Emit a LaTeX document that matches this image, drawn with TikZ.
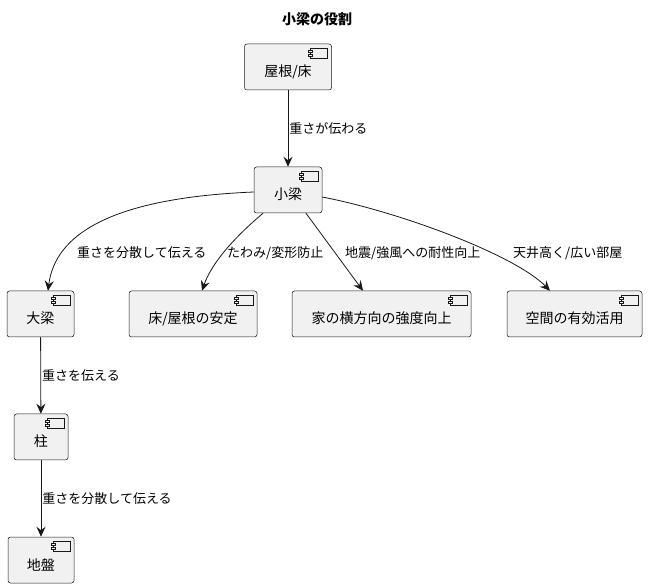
\documentclass[tikz,border=0pt]{standalone}
\usepackage{fontspec}
\setmainfont{Noto Sans CJK JP}
\usepackage{tikz}
\usetikzlibrary{arrows.meta, positioning}

\definecolor{boxfill}{HTML}{F1F1F1}
\definecolor{linecol}{HTML}{181818}

\tikzset{
  comp/.style={draw=linecol, fill=boxfill, line width=0.5pt, rounded corners=2.5pt,
    minimum height=46pt, text height=20pt, text depth=0pt,
    font=\fontsize{14pt}{16pt}\selectfont,
    path picture={
      \draw[linecol, line width=0.5pt, sharp corners, fill=boxfill]
        ([xshift=-21pt,yshift=-4pt]path picture bounding box.north east) rectangle ++(17pt,-10pt);
      \draw[linecol, line width=0.5pt, sharp corners, fill=boxfill]
        ([xshift=-23pt,yshift=-6pt]path picture bounding box.north east) rectangle ++(4pt,-2pt);
      \draw[linecol, line width=0.5pt, sharp corners, fill=boxfill]
        ([xshift=-23pt,yshift=-10pt]path picture bounding box.north east) rectangle ++(4pt,-2pt);
    }},
  arr/.style={draw=linecol, line width=0.8pt, -{Stealth[length=10pt, width=9pt, inset=3.5pt]}},
  lbl/.style={font=\fontsize{13pt}{15pt}\selectfont, inner sep=1pt}
}

\begin{document}
\begin{tikzpicture}[x=1pt, y=-1pt]
  \useasboundingbox (0,0) rectangle (649,588);

  % Title
  \node[font=\fontsize{14pt}{16pt}\selectfont\bfseries] (title) at (317,19) {小梁の役割};

  % Components
  \node[comp, minimum width=87pt] (roof) at (288,67) {屋根/床\hspace{12pt}};
  \node[comp, minimum width=68pt] (beam) at (288,190) {小梁\hspace{12pt}};
  \node[comp, minimum width=67pt] (girder) at (40.5,314) {大梁\hspace{12pt}};
  \node[comp, minimum width=128pt] (floor) at (193,314) {床/屋根の安定\hspace{12pt}};
  \node[comp, minimum width=179pt] (lateral) at (381.5,314) {家の横方向の強度向上\hspace{12pt}};
  \node[comp, minimum width=135pt] (space) at (574.5,314) {空間の有効活用\hspace{12pt}};
  \node[comp, minimum width=54pt] (column) at (41,437) {柱\hspace{12pt}};
  \node[comp, minimum width=66pt] (ground) at (41,560) {地盤\hspace{12pt}};

  % Load path
  \draw[arr] (roof) -- node[lbl, right] (lroof) {重さが伝わる} (beam);
  \draw[arr] (girder) -- node[lbl, right] (lgirder) {重さを伝える} (column);
  \draw[arr] (column) -- node[lbl, right] (lcolumn) {重さを分散して伝える} (ground);

  % Roles of the beam
  \draw[arr] ([yshift=-2pt]beam.west) .. controls (110,198) and (55,235) .. ([xshift=7.5pt]girder.north);
  \draw[arr] ([xshift=-25pt]beam.south) .. controls (236,236) and (212,262) .. ([xshift=9pt]floor.north);
  \draw[arr] ([xshift=18pt]beam.south) -- ([xshift=-18.5pt]lateral.north);
  \draw[arr] ([yshift=-7pt]beam.east) .. controls (400,212) and (515,255) .. ([xshift=-24.5pt]space.north);

  \node[lbl, anchor=west] (lgirder2) at (76,253) {重さを分散して伝える};
  \node[lbl, anchor=west] (lfloor) at (226,253) {たわみ/変形防止};
  \node[lbl, anchor=west] (llateral) at (344,253) {地震/強風への耐性向上};
  \node[lbl, anchor=west] (lspace) at (512,253) {天井高く/広い部屋};
\end{tikzpicture}
\end{document}
